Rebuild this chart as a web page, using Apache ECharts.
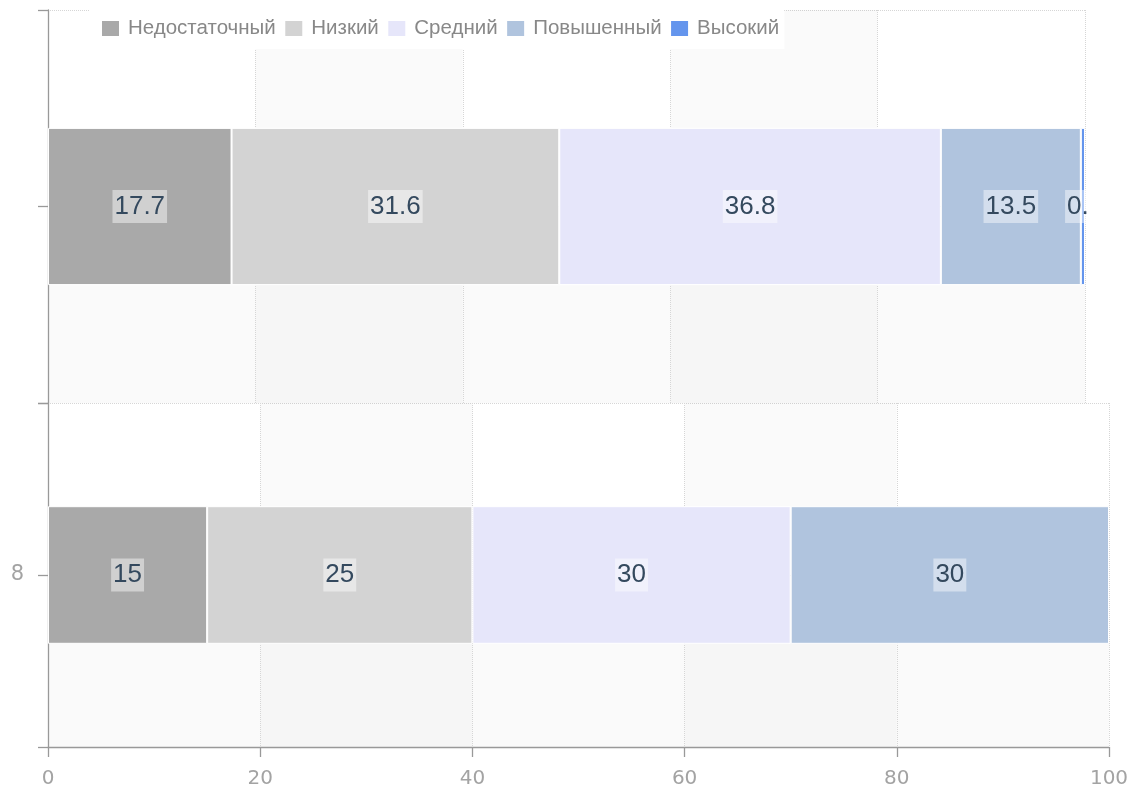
<!DOCTYPE html>
<html>
<head>
<meta charset="utf-8">
<script src="https://cdn.jsdelivr.net/npm/echarts@6/dist/echarts.min.js"></script>
<style>html,body{margin:0;padding:0;background:#fff;}#c{width:1139px;height:794px;}</style>
</head>
<body>
<div id="c"></div>
<script>
const seriesNames = ['Недостаточный', 'Низкий', 'Средний', 'Повышенный', 'Высокий'];
const seriesColors = ['#a9a9a9', '#d3d3d3', '#e6e6fa', '#b0c4de', '#6495ed'];
const topValues = [17.7, 31.6, 36.8, 13.5, 0.4];
const bottomValues = [15, 25, 30, 30, null];
const topCategories = ['', '', ''];
const bottomCategories = ['', '8', ''];
const xMin = 0, xMax = 100, xStep = 20;

const chart = echarts.init(document.getElementById('c'));
const gridLine = { show: true, lineStyle: { color: '#d6d6d6', type: 'dotted', width: 1 } };
const axisGrey = '#999';
const tickFont = { color: '#a3a3a3', fontFamily: 'DejaVu Sans', fontWeight: 'normal' };

function yAxisFor(gridIndex, cats) {
  return {
    type: 'category', gridIndex: gridIndex, data: cats, boundaryGap: false,
    axisLine: { show: true, lineStyle: { color: axisGrey, width: 1.3 } },
    axisTick: { show: true, length: 10, lineStyle: { color: axisGrey, width: 1.3 } },
    axisLabel: Object.assign({ fontSize: 21, margin: 24 }, tickFont),
    splitLine: gridLine,
    splitArea: { show: true, areaStyle: { color: ['rgba(0,0,0,0.018)', 'rgba(0,0,0,0)'] } }
  };
}
function xAxisFor(gridIndex, visible) {
  return {
    type: 'value', gridIndex: gridIndex, min: xMin, max: xMax, interval: xStep,
    axisLine: { show: visible, onZero: false, lineStyle: { color: axisGrey, width: 1.3 } },
    axisTick: { show: visible, length: 10, lineStyle: { color: axisGrey, width: 1.3 } },
    axisLabel: Object.assign({ show: visible, fontSize: 20, margin: 22 }, tickFont),
    splitLine: gridLine,
    splitArea: { show: true, areaStyle: { color: ['rgba(0,0,0,0)', 'rgba(0,0,0,0.018)'] } }
  };
}

const labelStyle = {
  show: true, position: 'inside', color: '#34495e', fontSize: 26,
  fontFamily: 'Liberation Sans, Arial, sans-serif',
  backgroundColor: 'rgba(255,255,255,0.45)', padding: [4, 2, 3, 2],
  formatter: p => p.value
};

const series = [];
seriesNames.forEach((name, i) => {
  const topData = topCategories.map((c, k) => k === 1 ? topValues[i] : '-');
  if (i === seriesNames.length - 1) {
    // the reference clips this label at the plot's right edge, leaving "0."
    topData[1] = { value: topValues[i], label: { formatter: p => String(p.value).slice(0, 2), offset: [-6, 0], padding: [4, 0, 3, 2] } };
  }
  series.push({
    name: name, type: 'bar', stack: 'top', xAxisIndex: 0, yAxisIndex: 0, barWidth: '80%',
    itemStyle: { color: seriesColors[i], borderColor: '#fff', borderWidth: 1 },
    label: labelStyle, data: topData
  });
  series.push({
    name: name, type: 'bar', stack: 'bottom', xAxisIndex: 1, yAxisIndex: 1, barWidth: '80%',
    itemStyle: { color: seriesColors[i], borderColor: '#fff', borderWidth: 1 },
    label: labelStyle,
    data: bottomCategories.map((c, k) => (k === 1 && bottomValues[i] != null) ? bottomValues[i] : '-')
  });
});

chart.setOption({
  animation: false,
  legend: {
    data: seriesNames, left: 90, top: 10, padding: [8, 5, 10, 10],
    backgroundColor: '#fff', itemWidth: 19, itemHeight: 17, itemGap: 7.5,
    icon: 'rect',
    textStyle: { color: '#888', fontSize: 20.5, padding: [0, 0, 0, 3], fontFamily: 'Liberation Sans, Arial, sans-serif' }
  },
  grid: [
    { left: 48, top: 10, width: 1037, height: 393 },
    { left: 48, top: 403, width: 1061, height: 344 }
  ],
  xAxis: [xAxisFor(0, false), xAxisFor(1, true)],
  yAxis: [yAxisFor(0, topCategories), yAxisFor(1, bottomCategories)],
  series: series
});
</script>
</body>
</html>
